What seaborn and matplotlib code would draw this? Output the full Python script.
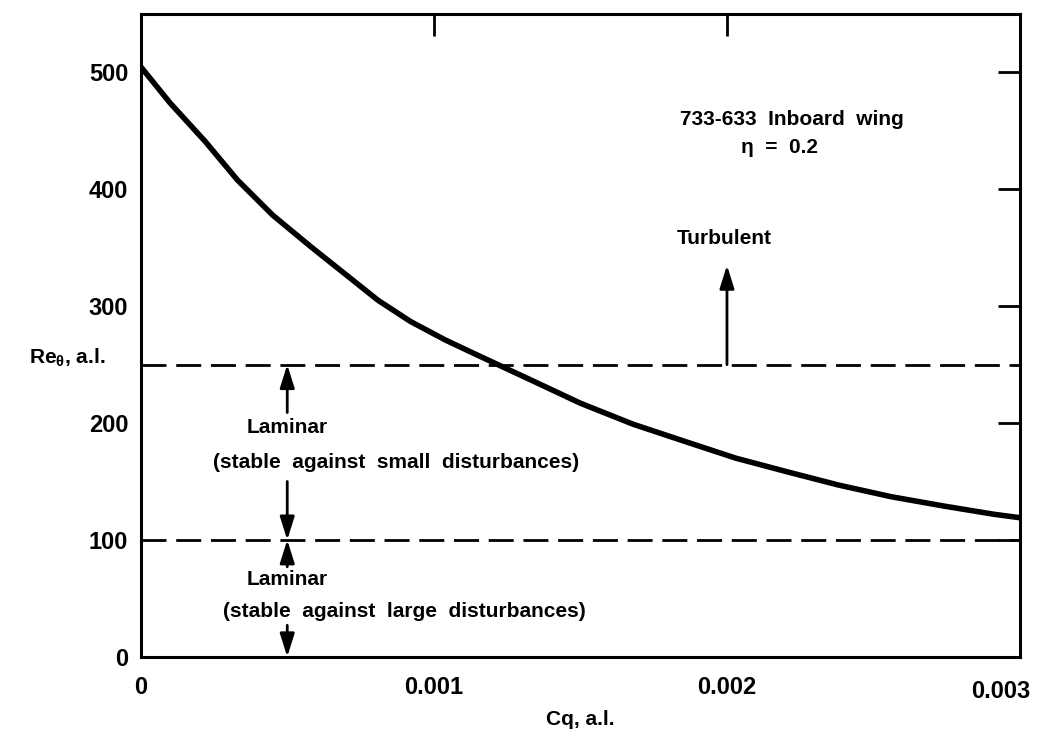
import matplotlib
matplotlib.use("Agg")
import matplotlib.pyplot as plt
import matplotlib.transforms as mtransforms
import pandas as pd
import seaborn as sns

# Momentum-thickness Reynolds number versus suction coefficient
cq = [0.0, 0.0001, 0.00022, 0.00033, 0.00045, 0.00058, 0.0007, 0.00081,
      0.00092, 0.00104, 0.00115, 0.00121, 0.00133, 0.0015, 0.00168,
      0.00186, 0.00203, 0.00221, 0.00238, 0.00256, 0.00274, 0.00291, 0.003]
re_theta = [505, 474, 441, 408, 378, 351, 327, 305,
            287, 271, 258, 251, 237, 217, 199,
            184, 170, 158, 147, 137, 129, 122, 119]

# Stability limits
re_turbulent = 250
re_large_dist = 100

x_ticks = [0.0, 0.001, 0.002, 0.003]
x_tick_labels = ["0", "0.001", "0.002", "0.003"]
y_ticks = [0, 100, 200, 300, 400, 500]
y_tick_labels = ["0", "100", "200", "300", "400", "500"]

sns.set_style("white")
plt.rcParams["font.family"] = ["Liberation Sans", "DejaVu Sans"]
plt.rcParams["font.weight"] = "bold"
plt.rcParams["text.color"] = "black"
plt.rcParams["axes.labelcolor"] = "black"
plt.rcParams["mathtext.fontset"] = "custom"
plt.rcParams["mathtext.rm"] = "Liberation Sans:bold"
plt.rcParams["mathtext.it"] = "Liberation Sans:bold"
plt.rcParams["mathtext.bf"] = "Liberation Sans:bold"

df = pd.DataFrame({"Cq": cq, "Re": re_theta})

fig = plt.figure(figsize=(10.42, 7.38), dpi=100)
ax = fig.add_axes([0.135, 0.110, 0.844, 0.871])

sns.lineplot(data=df, x="Cq", y="Re", ax=ax, color="black", linewidth=4.0,
             estimator=None, sort=False, legend=False)

for level in (re_turbulent, re_large_dist):
    ax.axhline(level, color="black", linewidth=2.0, dashes=(9, 3.5))

ax.set_xlim(0, 0.003)
ax.set_ylim(0, 550)
ax.set_xticks(x_ticks)
ax.set_xticklabels(x_tick_labels)
ax.set_yticks(y_ticks)
ax.set_yticklabels(y_tick_labels)

ax.tick_params(axis="both", which="major", direction="in", length=16, width=2.0,
               top=True, right=True, labelsize=17, colors="black")
ax.tick_params(axis="x", pad=14)
ax.tick_params(axis="y", pad=9)
for lbl in ax.get_xticklabels() + ax.get_yticklabels():
    lbl.set_fontweight("bold")

# pull the last x label slightly inward so it stays on the canvas
last = ax.get_xticklabels()[-1]
last.set_transform(last.get_transform() +
                   mtransforms.ScaledTranslation(-14 / 72, -3 / 72, fig.dpi_scale_trans))

for sp in ax.spines.values():
    sp.set_linewidth(2.2)
    sp.set_color("black")
    sp.set_visible(True)

ax.set_xlabel("Cq, a.l.", fontsize=15, fontweight="bold", color="black")
ax.xaxis.set_label_coords(0.5, -0.098)
ax.xaxis.label.set_va("center")
ax.set_ylabel(r"Re$_{\theta}$, a.l.", fontsize=15, fontweight="bold", color="black",
              rotation=0, ha="center", va="center")
ax.yaxis.set_label_coords(-0.084, 0.465)

# Arrows marking the flow regimes
arrow_kw = dict(arrowstyle="-|>,head_length=0.7,head_width=0.22",
                color="black", linewidth=2.0, mutation_scale=20,
                shrinkA=0, shrinkB=0)

def arrow(x, y_from, y_to):
    ax.annotate("", xy=(x, y_to), xytext=(x, y_from), arrowprops=arrow_kw)

arrow(0.002, re_turbulent, 335)
arrow(0.0005, 209, re_turbulent)
arrow(0.0005, 150, re_large_dist)
arrow(0.0005, 77, re_large_dist)
arrow(0.0005, 27, 0)

txt = dict(ha="center", va="center", fontsize=15, fontweight="bold", color="black")
ax.text(0.00222, 460, "733-633  Inboard  wing", **txt)
ax.text(0.00218, 436, "η  =  0.2", **txt)
ax.text(0.00199, 358, "Turbulent", **txt)
ax.text(0.0005, 196, "Laminar", **txt)
ax.text(0.00087, 166, "(stable  against  small  disturbances)", **txt)
ax.text(0.0005, 66, "Laminar", **txt)
ax.text(0.0009, 39, "(stable  against  large  disturbances)", **txt)

fig.savefig("out.png", dpi=100)
